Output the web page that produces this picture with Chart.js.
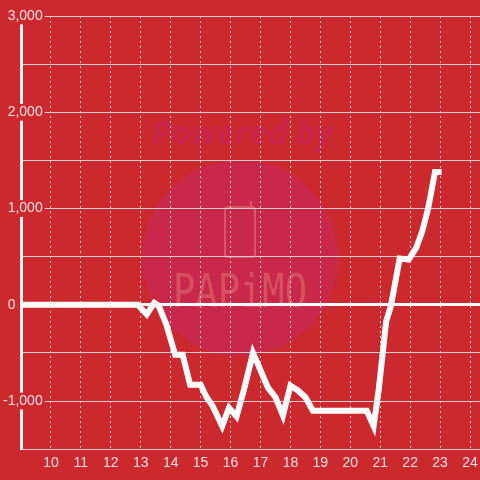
<!DOCTYPE html>
<html>
<head>
<meta charset="utf-8">
<script src="https://cdn.jsdelivr.net/npm/chart.js@4"></script>
<style>
  body { margin: 0; background: #cc292e; }
  canvas { display: block; }
</style>
</head>
<body>
<canvas id="chart" width="480" height="480"></canvas>
<script>
// ===== DATA =====
const hours = [9, 12.9, 13.2, 13.45, 13.6, 13.85, 14.15, 14.4, 14.65, 15.0, 15.2, 15.4, 15.72, 15.95,
  16.2, 16.45, 16.75, 17.0, 17.25, 17.5, 17.75, 18.0, 18.25, 18.5, 18.75, 20.55, 20.78, 20.95,
  21.2, 21.35, 21.65, 21.95, 22.2, 22.4, 22.6, 22.83, 23.05];
const values = [0, 0, -100, 20, -10, -200, -520, -520, -830, -830, -960, -1050, -1260, -1070,
  -1160, -880, -500, -680, -860, -960, -1150, -840, -890, -960, -1100, -1100, -1260, -880,
  -170, -20, 480, 470, 590, 760, 1000, 1380, 1380];
const xTicks = [10, 11, 12, 13, 14, 15, 16, 17, 18, 19, 20, 21, 22, 23, 24];
const yLabels = [-1000, 0, 1000, 2000, 3000];

const BG = "#cc292e";
const TEXT = "#f5e0e0";
const GRID = "#d8cccc";

// background + faint watermark, behind the grid
const backdrop = {
  id: "backdrop",
  beforeDraw(chart) {
    const c = chart.ctx;
    c.save();
    c.fillStyle = BG;
    c.fillRect(0, 0, chart.width, chart.height);

    c.fillStyle = "#c9284a";
    c.beginPath();
    c.arc(240, 258, 98, 0, Math.PI * 2);
    c.fill();

    c.fillStyle = "#c8254a";
    c.font = "bold italic 33px 'Open Sans'";
    c.textAlign = "center";
    c.textBaseline = "alphabetic";
    c.fillText("Powered by", 242, 144);

    // phone icon
    c.strokeStyle = "#d8586a";
    c.lineWidth = 2;
    c.beginPath();
    c.roundRect(225, 207, 30, 50, 3);
    c.stroke();
    c.beginPath();
    c.moveTo(251, 207);
    c.lineTo(251, 201);
    c.stroke();

    c.fillStyle = "#d6505f";
    c.translate(240, 307);
    c.scale(1.03, 1.27);
    c.font = "300 36px 'DejaVu Sans Mono'";
    c.fillText("PAPiMO", 0, 0);
    c.restore();
  }
};

const points = hours.map((h, i) => ({ x: h, y: values[i] }));

new Chart(document.getElementById("chart"), {
  type: "line",
  data: {
    datasets: [{
      data: points,
      borderColor: "#ffffff",
      borderWidth: 6,
      pointRadius: 0,
      tension: 0,
      fill: false
    }]
  },
  options: {
    responsive: false,
    animation: false,
    devicePixelRatio: 1,
    layout: { padding: { top: 16, right: 0, bottom: 2, left: 0 } },
    plugins: { legend: { display: false }, tooltip: { enabled: false } },
    scales: {
      x: {
        type: "linear",
        min: 9,
        max: 24.333,
        afterBuildTicks: (s) => { s.ticks = [9].concat(xTicks).map(v => ({ value: v })); },
        afterFit: (s) => { s.paddingLeft = 0; s.paddingRight = 0; },
        ticks: {
          autoSkip: false,
          maxRotation: 0,
          padding: 6,
          color: TEXT,
          font: { family: "'Liberation Sans'", size: 14 },
          callback: (v) => (v === 9 ? "" : String(v))
        },
        grid: {
          drawTicks: false,
          color: (ctx) => (ctx.tick && ctx.tick.value === 9 ? "transparent" : GRID),
          lineWidth: 1,
          tickBorderDash: [2, 3]
        },
        border: { color: GRID, width: 1, dash: [2, 3] }
      },
      y: {
        min: -1500,
        max: 3000,
        afterFit: (s) => { s.width = 21; },
        ticks: {
          stepSize: 500,
          mirror: true,
          crossAlign: "far",
          padding: -18,
          color: TEXT,
          font: { family: "'Liberation Sans'", size: 14 },
          showLabelBackdrop: true,
          backdropPadding: { top: 0, bottom: 0, left: 2, right: 2 },
          backdropColor: (ctx) => {
            const v = ctx.tick ? ctx.tick.value : 1;
            return (v !== 0 && yLabels.includes(v)) ? BG : "transparent";
          },
          callback: (v) => {
            if (!yLabels.includes(v)) return "";
            if (v === 0) return "0" + "\u00a0".repeat(7);
            return v.toLocaleString("en-US");
          }
        },
        grid: {
          drawTicks: false,
          color: (ctx) => (ctx.tick && ctx.tick.value === 0 ? "#ffffff" : GRID),
          lineWidth: (ctx) => (ctx.tick && ctx.tick.value === 0 ? 3 : 1)
        },
        border: { color: "#f2f2f2", width: 3 }
      }
    }
  },
  plugins: [backdrop]
});
</script>
</body>
</html>
